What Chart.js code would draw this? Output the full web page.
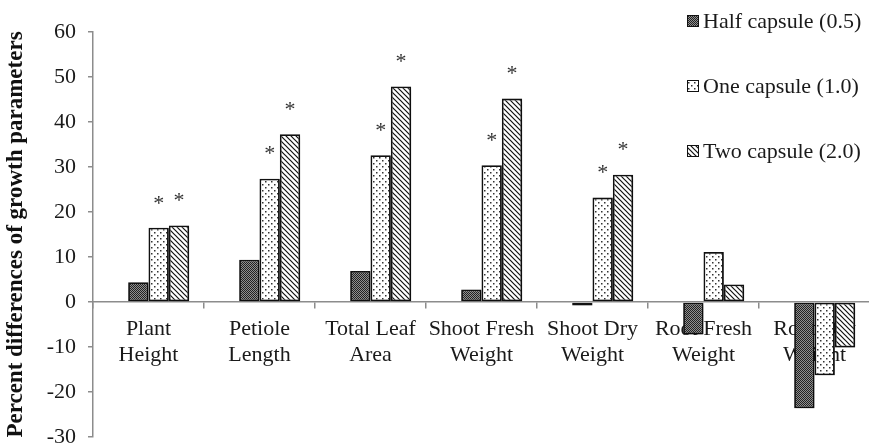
<!DOCTYPE html>
<html>
<head>
<meta charset="utf-8">
<script src="https://cdn.jsdelivr.net/npm/chart.js@4.4.1/dist/chart.umd.min.js"></script>
<style>
  html, body { margin: 0; padding: 0; background: #fff; overflow: hidden; }
  #wrap { width: 870px; height: 445px; position: relative; }
</style>
</head>
<body>
<div id="wrap"><canvas id="growthChart"></canvas></div>
<script>
const categories = [['Plant', 'Height'], ['Petiole', 'Length'], ['Total Leaf', 'Area'], ['Shoot Fresh', 'Weight'], ['Shoot Dry', 'Weight'], ['Root Fresh', 'Weight'], ['Root Dry', 'Weight']];
const seriesNames = ['Half capsule (0.5)', 'One capsule (1.0)', 'Two capsule (2.0)'];
const halfCapsule = [4.4, 9.4, 6.9, 2.8, -0.8, -7.2, -23.6];
const oneCapsule = [16.5, 27.4, 32.6, 30.4, 23.2, 11.1, -16.3];
const twoCapsule = [17.0, 37.3, 47.9, 45.2, 28.3, 3.9, -10.1];
// significance marks (*) above the bars
const sigOne = [true, true, true, true, true, false, false];
const sigTwo = [true, true, true, true, true, false, false];
const yTicks = [-30, -20, -10, 0, 10, 20, 30, 40, 50, 60];

const FONT = '"Liberation Serif", "Times New Roman", serif';

function makePattern(kind) {
  const c = document.createElement('canvas');
  const g = c.getContext('2d');
  if (kind === 'checker') {
    c.width = 2; c.height = 2;
    g.fillStyle = '#8f8f8f'; g.fillRect(0, 0, 2, 2);
    g.fillStyle = '#222'; g.fillRect(0, 0, 1, 1); g.fillRect(1, 1, 1, 1);
  } else if (kind === 'dots') {
    c.width = 6; c.height = 6;
    g.fillStyle = '#fff'; g.fillRect(0, 0, 6, 6);
    g.fillStyle = '#333';
    g.fillRect(1, 1, 1.5, 1.5); g.fillRect(4, 4, 1.5, 1.5);
  } else {
    c.width = 5; c.height = 5;
    g.fillStyle = '#fff'; g.fillRect(0, 0, 5, 5);
    g.strokeStyle = '#111'; g.lineWidth = 1.2;
    g.beginPath();
    g.moveTo(-1, -1); g.lineTo(6, 6);
    g.moveTo(-1, 4); g.lineTo(1, 6);
    g.moveTo(4, -1); g.lineTo(6, 1);
    g.stroke();
  }
  return g.createPattern(c, 'repeat');
}

const fills = [makePattern('checker'), makePattern('dots'), makePattern('stripes')];

const extras = {
  id: 'extras',
  beforeDatasetsDraw(chart) {
    const ctx = chart.ctx;
    ctx.save();
    ctx.shadowColor = 'rgba(0,0,0,0.35)';
    ctx.shadowBlur = 4;
    ctx.shadowOffsetX = 2;
    ctx.shadowOffsetY = 2;
  },
  afterDatasetsDraw(chart) {
    const ctx = chart.ctx;
    ctx.restore();
    ctx.save();
    ctx.font = '22px ' + FONT;
    ctx.fillStyle = '#333';
    ctx.textAlign = 'center';
    ctx.textBaseline = 'middle';
    [[2, sigOne], [3, sigTwo]].forEach(([di, sig]) => {
      const meta = chart.getDatasetMeta(di);
      meta.data.forEach((bar, i) => {
        if (sig[i]) ctx.fillText('*', bar.x, bar.y - 24);
      });
    });
    ctx.restore();
  },
  afterDraw(chart) {
    const ctx = chart.ctx;
    ctx.save();
    ctx.font = '22px ' + FONT;
    ctx.textBaseline = 'middle';
    ctx.textAlign = 'left';
    const rows = [21, 86, 151];
    seriesNames.forEach((name, i) => {
      const y = rows[i];
      ctx.fillStyle = fills[i];
      ctx.fillRect(687, y - 6, 12, 12);
      ctx.strokeStyle = '#111';
      ctx.lineWidth = 1;
      ctx.strokeRect(687.5, y - 5.5, 11, 11);
      ctx.fillStyle = '#1a1a1a';
      ctx.fillText(name, 703, y + 1);
    });
    ctx.restore();
  }
};

function buildChart() {
  const ctx = document.getElementById('growthChart');
  const barStyle = { borderColor: '#111', borderWidth: 1.8, borderSkipped: false };
  new Chart(ctx, {
    type: 'bar',
    data: {
      labels: categories,
      datasets: [
        // empty first slot, Excel-style gap that pushes the groups right
        { label: '', data: categories.map(() => null) },
        Object.assign({ label: seriesNames[0], data: halfCapsule, backgroundColor: fills[0] }, barStyle),
        Object.assign({ label: seriesNames[1], data: oneCapsule, backgroundColor: fills[1] }, barStyle),
        Object.assign({ label: seriesNames[2], data: twoCapsule, backgroundColor: fills[2] }, barStyle)
      ]
    },
    options: {
      responsive: true, maintainAspectRatio: false, animation: false,
      layout: { padding: { top: 32, bottom: 8, left: 0, right: 0 } },
      datasets: { bar: { categoryPercentage: 0.733, barPercentage: 1.0 } },
      plugins: { legend: { display: false }, tooltip: { enabled: false } },
      scales: {
        x: {
          position: { y: 0 },
          offset: true,
          afterFit: s => { s.height = 0; s.paddingLeft = 0; s.paddingRight = 0; },
          grid: { offset: true, drawOnChartArea: false, drawTicks: true, tickLength: 6, color: '#8c8c8c', lineWidth: 1.5 },
          border: { display: true, color: '#8c8c8c', width: 1.5 },
          ticks: { color: '#1a1a1a', font: { family: FONT, size: 22, lineHeight: 1.15 }, padding: 9, maxRotation: 0, autoSkip: false }
        },
        y: {
          min: -30, max: 60,
          afterBuildTicks: s => { s.ticks = yTicks.map(v => ({ value: v })); },
          afterFit: s => { s.width = 93; s.paddingTop = 0; s.paddingBottom = 0; },
          grid: { drawOnChartArea: false, drawTicks: true, tickLength: 5, color: '#8c8c8c', lineWidth: 1.5 },
          border: { display: true, color: '#8c8c8c', width: 1.5 },
          ticks: { color: '#1a1a1a', font: { family: FONT, size: 22 }, padding: 12 },
          title: {
            display: true, text: 'Percent differences of growth parameters', color: '#111',
            font: { family: FONT, size: 23, weight: 'bold' }, padding: { top: 2, bottom: 0 }
          }
        }
      }
    },
    plugins: [extras]
  });
}

buildChart();
</script>
</body>
</html>
